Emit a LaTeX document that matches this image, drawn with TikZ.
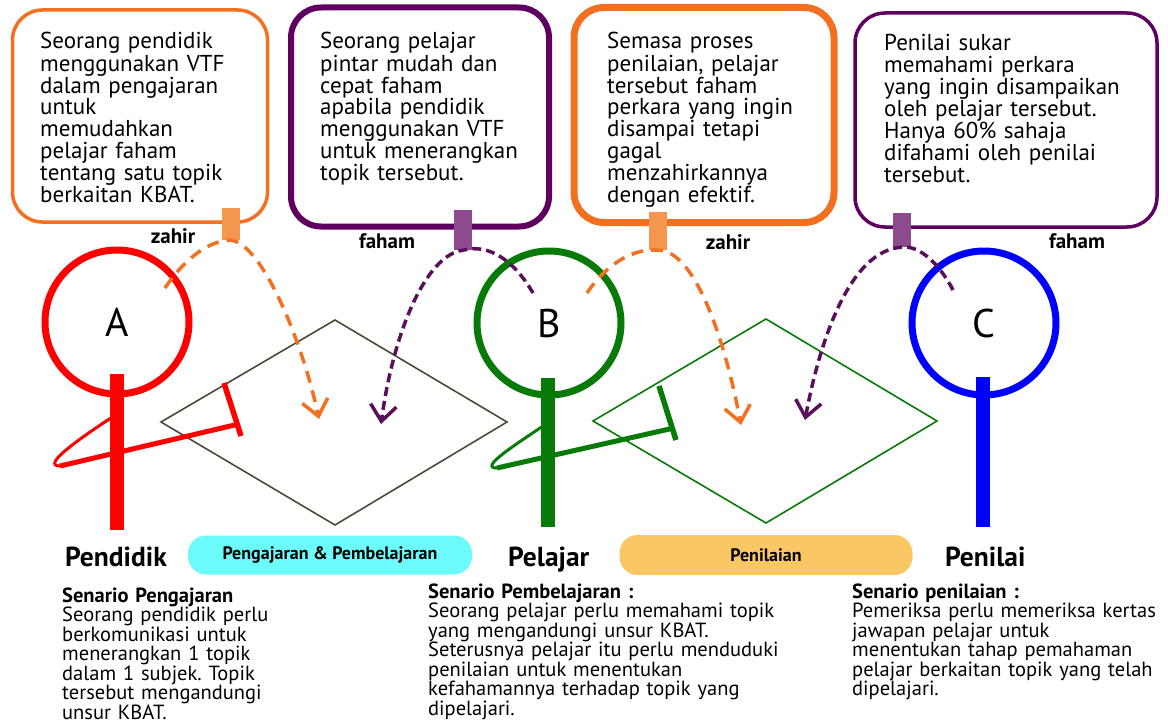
\documentclass[tikz,border=0pt]{standalone}
\usepackage{fontspec}
\setmainfont{PT Sans}
\usetikzlibrary{arrows.meta}
\definecolor{orgbox}{HTML}{F37021}
\definecolor{orgtag}{HTML}{F4964E}
\definecolor{purbox}{HTML}{5F0060}
\definecolor{purtag}{HTML}{8E4A8E}
\definecolor{purdash}{HTML}{5A0F5C}
\definecolor{redc}{HTML}{FF0000}
\definecolor{greenc}{HTML}{087A08}
\definecolor{bluec}{HTML}{0000FF}
\definecolor{diagray}{HTML}{4A4A3A}
\definecolor{cyanpill}{HTML}{6CFAFA}
\definecolor{yelpill}{HTML}{F9C864}
\frenchspacing
\begin{document}
\begin{tikzpicture}[x=1pt,y=-1pt,
  frame/.style={rounded corners=30pt, fill=white, inner sep=0pt},
  boxtxt/.style={anchor=base west, text width=290pt, align=left, inner sep=0pt,
    font=\fontsize{23}{22}\selectfont},
  tag/.style={minimum width=18pt, inner sep=0pt},
  lbl/.style={font=\bfseries\fontsize{21}{23}\selectfont, inner sep=0pt},
  head/.style={circle, inner sep=0pt, minimum size=144pt, line width=7pt, font=\fontsize{40}{42}\selectfont},
  body/.style={line width=14pt},
  who/.style={anchor=base west, font=\bfseries\fontsize{27.5}{29}\selectfont, inner sep=0pt},
  pill/.style={rounded corners=18pt, inner sep=0pt, font=\bfseries\fontsize{18}{20}\selectfont},
  scen/.style={anchor=base west, text width=420pt, align=left, inner sep=0pt,
    font=\fontsize{20.5}{19.5}\selectfont},
  odash/.style={draw=orgbox, line width=3.5pt, dash pattern=on 12pt off 8pt,
    -{Straight Barb[length=16pt,width=26pt,line width=3.5pt]}},
  pdash/.style={draw=purdash, line width=3.5pt, dash pattern=on 9pt off 5pt,
    -{Straight Barb[length=16pt,width=26pt,line width=3.5pt]}}
]
\useasboundingbox (0,0) rectangle (1168,725);

% top boxes
\node[frame, draw=orgbox, line width=3.5pt, minimum width=255pt, minimum height=212pt] (b1) at (140,116) {};
\node[frame, draw=purbox, line width=6pt, minimum width=258pt, minimum height=219pt] (b2) at (420,117) {};
\node[frame, draw=orgbox, line width=7pt, minimum width=260pt, minimum height=215pt] (b3) at (704,115) {};
\node[frame, draw=purbox, line width=3.5pt, minimum width=302pt, minimum height=214pt] (b4) at (1006,120) {};

\node[boxtxt] (t1) at (40,49) {Seorang pendidik\\menggunakan VTF\\dalam pengajaran\\untuk\\memudahkan\\pelajar faham\\tentang satu topik\\berkaitan KBAT.};
\node[boxtxt] (t2) at (320,49) {Seorang pelajar\\pintar mudah dan\\cepat faham\\apabila pendidik\\menggunakan VTF\\untuk menerangkan\\topik tersebut.};
\node[boxtxt] (t3) at (607,49) {Semasa proses\\penilaian, pelajar\\tersebut faham\\perkara yang ingin\\disampai tetapi\\gagal\\menzahirkannya\\dengan efektif.};
\node[boxtxt] (t4) at (884,51) {Penilai sukar\\memahami perkara\\yang ingin disampaikan\\oleh pelajar tersebut.\\Hanya 60\% sahaja\\difahami oleh penilai\\tersebut.};

% tags
\node[tag, fill=orgtag, minimum height=32pt] (g1) at (231,224) {};
\node[tag, fill=purtag, minimum height=40pt] (g2) at (463,230) {};
\node[tag, fill=orgtag, minimum height=38pt] (g3) at (658,231) {};
\node[tag, fill=purtag, minimum height=34pt] (g4) at (902,230) {};

\node[lbl] (z1) at (173,236) {zahir};
\node[lbl] (f1) at (387,241) {faham};
\node[lbl] (z2) at (728,242) {zahir};
\node[lbl] (f2) at (1077,241) {faham};

% diamonds
\coordinate (d1l) at (161,422); \coordinate (d1t) at (335,320);
\coordinate (d1r) at (507,422); \coordinate (d1b) at (335,525);
\draw[diagray, line width=1.6pt, line join=miter] (d1l) -- (d1t) -- (d1r) -- (d1b) -- cycle;
\coordinate (d2l) at (593,421); \coordinate (d2t) at (766,319);
\coordinate (d2r) at (937,421); \coordinate (d2b) at (766,523);
\draw[greenc, line width=1.6pt, line join=miter] (d2l) -- (d2t) -- (d2r) -- (d2b) -- cycle;

% heads
\node[head, draw=redc] (hA) at (117,322) {A};
\node[head, draw=greenc] (hB) at (549,323) {B};
\node[head, draw=bluec] (hC) at (984,323) {C};

% bodies
\coordinate (aT) at (117,374); \coordinate (aB) at (117,530);
\coordinate (bT) at (548,378); \coordinate (bB) at (548,527);
\coordinate (cT) at (983,377); \coordinate (cB) at (983,527);
\draw[redc, body] (aT) -- (aB);
\draw[greenc, body] (bT) -- (bB);
\draw[bluec, body] (cT) -- (cB);

% arms
\coordinate (aS) at (120,412); \coordinate (aTip) at (60,466); \coordinate (aE) at (239,424);
\coordinate (aC1) at (224,383); \coordinate (aC2) at (241,436);
\draw[redc, line width=3pt] (aS) .. controls (80,438) and (40,466) .. (aTip);
\draw[redc, line width=5pt] (aTip) -- (aE);
\draw[redc, line width=5.5pt] (aC1) -- (aC2);

\coordinate (bS) at (552,420); \coordinate (bTip) at (497,468); \coordinate (bE) at (674,428);
\coordinate (bC1) at (659,386); \coordinate (bC2) at (676,440);
\draw[greenc, line width=3pt] (bS) .. controls (515,445) and (478,468) .. (bTip);
\draw[greenc, line width=5pt] (bTip) -- (bE);
\draw[greenc, line width=5.5pt] (bC1) -- (bC2);

% dashed arrows
\coordinate (o1s) at (165,288); \coordinate (o1e) at (319,419);
\coordinate (p1s) at (533,293); \coordinate (p1e) at (381,424);
\coordinate (o2s) at (587,293); \coordinate (o2e) at (741,425);
\coordinate (p2s) at (953,290); \coordinate (p2e) at (805,420);
\draw[odash] (o1s) .. controls (185,258) and (210,240) .. (g1.south)
  .. controls (262,244) and (302,340) .. (o1e);
\draw[pdash] (p1s) .. controls (515,262) and (490,243) .. (g2.south)
  .. controls (425,255) and (393,335) .. (p1e);
\draw[odash] (o2s) .. controls (608,262) and (635,248) .. (g3.south)
  .. controls (695,250) and (725,340) .. (o2e);
\draw[pdash] (p2s) .. controls (940,265) and (920,245) .. (g4.south)
  .. controls (850,250) and (820,340) .. (p2e);

% names
\node[who] (nA) at (65,566) {Pendidik};
\node[who] (nB) at (508,566) {Pelajar};
\node[who] (nC) at (945,566) {Penilai};

% pills
\node[pill, fill=cyanpill, minimum width=284pt, minimum height=39pt] (pl1) at (330,555) {Pengajaran \& Pembelajaran};
\node[pill, fill=yelpill, minimum width=293pt, minimum height=40pt] (pl2) at (766,555) {Penilaian};

% scenarios
\node[scen] (s1) at (62,602) {\textbf{Senario Pengajaran}\\Seorang pendidik perlu\\berkomunikasi untuk\\menerangkan 1 topik\\dalam 1 subjek. Topik\\tersebut mengandungi\\unsur KBAT.};
\node[scen] (s2) at (428,598) {\textbf{Senario Pembelajaran :}\\Seorang pelajar perlu memahami topik\\yang mengandungi unsur KBAT.\\Seterusnya pelajar itu perlu menduduki\\penilaian untuk menentukan\\kefahamannya terhadap topik yang\\dipelajari.};
\node[scen] (s3) at (852,598) {\textbf{Senario penilaian :}\\Pemeriksa perlu memeriksa kertas\\jawapan pelajar untuk\\menentukan tahap pemahaman\\pelajar berkaitan topik yang telah\\dipelajari.};
\end{tikzpicture}
\end{document}
